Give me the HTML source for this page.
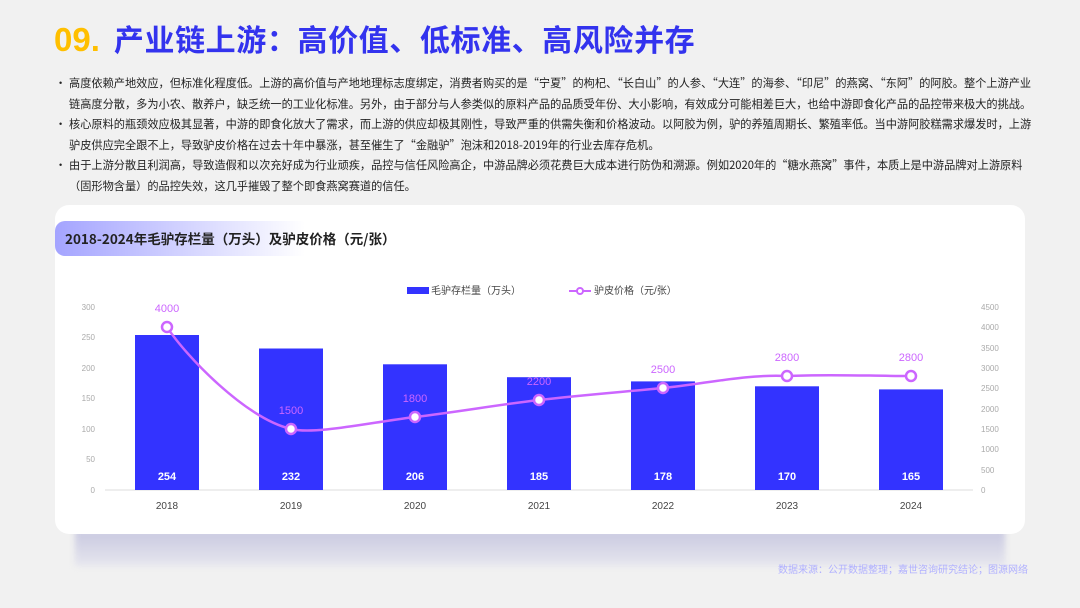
<!DOCTYPE html>
<html><head><meta charset="utf-8"><style>
body{margin:0;width:1080px;height:608px;background:#f1f1f1;font-family:"Liberation Sans","Noto Sans CJK SC",sans-serif;position:relative;overflow:hidden}
.t{position:absolute;left:54px;top:17px;font-size:30px;font-weight:bold;color:#3333ee;white-space:nowrap;font-family:"Noto Sans CJK SC",sans-serif;line-height:42px;letter-spacing:0.6px}
.t b{color:#ffbf00;font-family:"Liberation Sans",sans-serif;font-size:33px;letter-spacing:0;margin-right:14px}
ul{position:absolute;left:53px;top:73px;margin:0;padding:0;list-style:none;width:984px;font-size:11.2px;line-height:20.5px;color:#222;font-family:"Noto Sans CJK SC",sans-serif}
li{position:relative;padding-left:16px}
li:before{content:"•";position:absolute;left:2px}
.shadow{position:absolute;left:75px;top:530px;width:930px;height:36px;background:linear-gradient(#c8c8e0,#e6e6ee);filter:blur(3px)}
.card{position:absolute;left:55px;top:205px;width:970px;height:329px;background:#fff;border-radius:14px}
.ct{position:absolute;left:55px;top:221px;width:250px;height:35px;border-radius:10px 0 0 10px;background:linear-gradient(90deg,#a4a4ff,#fff);}
.ct span{position:absolute;left:10px;top:7px;font-size:13.5px;font-weight:bold;color:#222;white-space:nowrap;font-family:"Noto Sans CJK SC",sans-serif}
.src{position:absolute;left:778px;top:561px;font-size:10px;color:#b0b0ff;font-family:"Noto Sans CJK SC",sans-serif}
</style></head><body>
<div class="t"><b>09.</b>产业链上游：高价值、低标准、高风险并存</div>
<ul>
<li>高度依赖产地效应，但标准化程度低。上游的高价值与产地地理标志度绑定，消费者购买的是“宁夏”的枸杞、“长白山”的人参、“大连”的海参、“印尼”的燕窝、“东阿”的阿胶。整个上游产业链高度分散，多为小农、散养户，缺乏统一的工业化标准。另外，由于部分与人参类似的原料产品的品质受年份、大小影响，有效成分可能相差巨大，也给中游即食化产品的品控带来极大的挑战。</li>
<li>核心原料的瓶颈效应极其显著，中游的即食化放大了需求，而上游的供应却极其刚性，导致严重的供需失衡和价格波动。以阿胶为例，驴的养殖周期长、繁殖率低。当中游阿胶糕需求爆发时，上游驴皮供应完全跟不上，导致驴皮价格在过去十年中暴涨，甚至催生了“金融驴”泡沫和2018-2019年的行业去库存危机。</li>
<li>由于上游分散且利润高，导致造假和以次充好成为行业顽疾，品控与信任风险高企，中游品牌必须花费巨大成本进行防伪和溯源。例如2020年的“糖水燕窝”事件，本质上是中游品牌对上游原料（固形物含量）的品控失效，这几乎摧毁了整个即食燕窝赛道的信任。</li>
</ul>
<div class="shadow"></div>
<div class="card"></div>
<div class="ct"><span>2018-2024年毛驴存栏量（万头）及驴皮价格（元/张）</span></div>
<svg width="1080" height="608" style="position:absolute;left:0;top:0" font-family="Liberation Sans, Noto Sans CJK SC, sans-serif">
<g font-size="8" fill="#aaa" text-anchor="end">
<text x="95" y="310">300</text><text x="95" y="371">200</text><text x="95" y="340">250</text><text x="95" y="401">150</text><text x="95" y="432">100</text><text x="95" y="462">50</text><text x="95" y="493">0</text>
</g>
<g font-size="8" fill="#aaa">
<text x="981" y="310">4500</text><text x="981" y="330">4000</text><text x="981" y="351">3500</text><text x="981" y="371">3000</text><text x="981" y="391">2500</text><text x="981" y="412">2000</text><text x="981" y="432">1500</text><text x="981" y="452">1000</text><text x="981" y="473">500</text><text x="981" y="493">0</text>
</g>
<line x1="105" y1="490" x2="973" y2="490" stroke="#ddd"/>
<g fill="#3333ff">
<rect x="135" y="335" width="64" height="155"/>
<rect x="259" y="348.5" width="64" height="141.5"/>
<rect x="383" y="364.3" width="64" height="125.7"/>
<rect x="507" y="377.2" width="64" height="112.8"/>
<rect x="631" y="381.4" width="64" height="108.6"/>
<rect x="755" y="386.3" width="64" height="103.7"/>
<rect x="879" y="389.4" width="64" height="100.6"/>
</g>
<g font-size="11" fill="#fff" text-anchor="middle" font-weight="bold">
<text x="167" y="480">254</text><text x="291" y="480">232</text><text x="415" y="480">206</text><text x="539" y="480">185</text><text x="663" y="480">178</text><text x="787" y="480">170</text><text x="911" y="480">165</text>
</g>
<g font-size="10" fill="#444" text-anchor="middle">
<text x="167" y="509">2018</text><text x="291" y="509">2019</text><text x="415" y="509">2020</text><text x="539" y="509">2021</text><text x="663" y="509">2022</text><text x="787" y="509">2023</text><text x="911" y="509">2024</text>
</g>
<path d="M167,327 C185,355 245,418 291,429 C315,435 373.7,421.8 415,417 C456.3,412.2 497.7,404.8 539,400 C580.3,395.2 621.7,392 663,388 C704.3,384 745.7,374 787,376 C828.3,374 869.7,376 911,376" fill="none" stroke="#cc66ff" stroke-width="2.5"/>
<g fill="#fff" stroke="#cc66ff" stroke-width="2.5">
<circle cx="167" cy="327" r="5"/><circle cx="291" cy="429" r="5"/><circle cx="415" cy="417" r="5"/><circle cx="539" cy="400" r="5"/><circle cx="663" cy="388" r="5"/><circle cx="787" cy="376" r="5"/><circle cx="911" cy="376" r="5"/>
</g>
<g font-size="11" fill="#cc66ff" text-anchor="middle">
<text x="167" y="312">4000</text><text x="291" y="414">1500</text><text x="415" y="402">1800</text><text x="539" y="385">2200</text><text x="663" y="373">2500</text><text x="787" y="361">2800</text><text x="911" y="361">2800</text>
</g>
<rect x="407" y="287" width="22" height="7" fill="#3333ff"/>
<text x="431" y="294" font-size="10" fill="#444">毛驴存栏量（万头）</text>
<line x1="569" y1="291" x2="591" y2="291" stroke="#cc66ff" stroke-width="2"/>
<circle cx="580" cy="291" r="3" fill="#fff" stroke="#cc66ff" stroke-width="2"/>
<text x="594" y="294" font-size="10" fill="#444">驴皮价格（元/张）</text>
</svg>
<div class="src">数据来源：公开数据整理；嘉世咨询研究结论；图源网络</div>
</body></html>
